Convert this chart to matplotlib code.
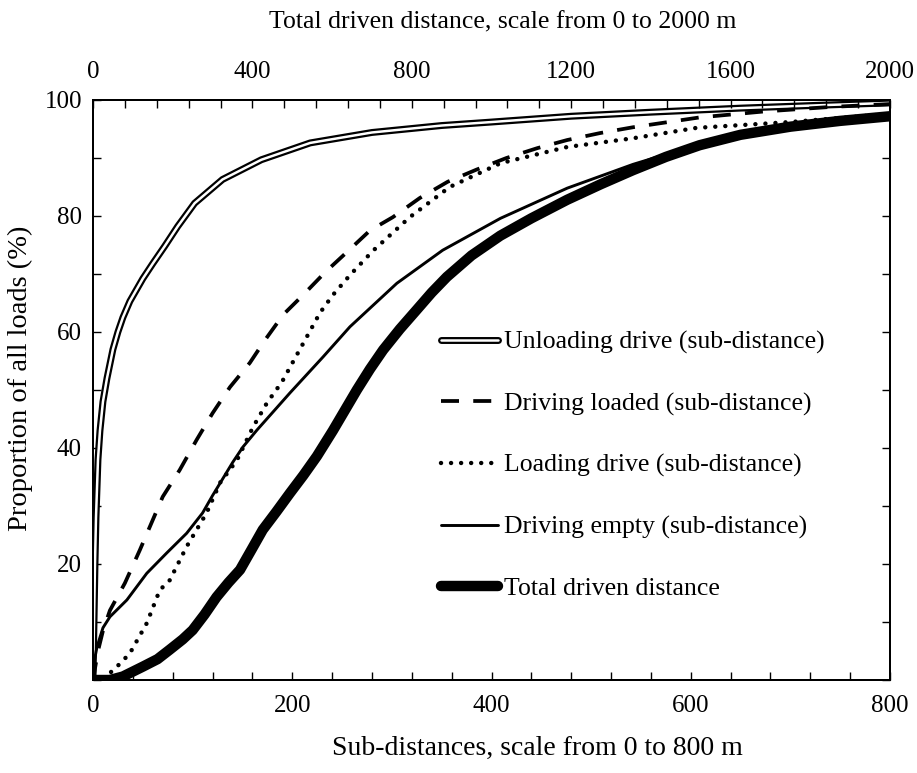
import matplotlib
matplotlib.use("Agg")
import matplotlib.pyplot as plt
import matplotlib.patheffects as pe
import numpy as np

plt.rcParams['font.family'] = ['Liberation Serif', 'DejaVu Serif']

# Sub-distance curves (x in m, 0-800 scale), cumulative share of loads (%)
unload_x = [0, 1, 2, 3, 5, 7, 10, 14, 20, 25, 30, 37, 50, 60, 72, 85, 102, 130, 169, 218, 280, 350, 400,
            480, 560, 650, 730, 800]
unload_y = [0, 10, 20, 28, 38, 43, 48, 52, 57, 60, 62.5, 65.3, 69.2, 71.8, 74.8, 78.2, 82.2, 86.3, 89.7,
            92.6, 94.4, 95.6, 96.2, 97.2, 97.9, 98.6, 99.1, 99.5]

loaded_x = [0, 5, 10, 17, 32, 47, 57, 70, 87, 104, 120, 137.5, 157.5, 172.6, 191, 211, 233, 255, 278, 301,
            328, 356, 385, 415, 446, 476, 509, 542, 609, 672, 740, 800]
loaded_y = [0, 5, 8.5, 12, 16.7, 22.4, 26.4, 31.6, 36.2, 41.4, 46, 50.5, 54.7, 58.6, 63, 66.4, 70.3, 73.8, 77.5, 79.8,
            83.1, 85.9, 88, 90, 91.7, 93.1, 94.3, 95.3, 97, 98, 98.8, 99.3]

loading_x = [0, 8, 17, 27, 37, 54, 67, 77, 94, 114, 127.5, 144.5, 160.6, 174.7, 189.7, 202.8, 212.8, 227.8,
             240.9, 257.9, 281, 318, 358, 409, 476, 542, 606, 700, 800]
loading_y = [0, 0.3, 1.2, 2.8, 4.6, 9.8, 15.5, 17.2, 23, 28.8, 34, 37.9, 43.6, 47.8, 51.4, 55.5, 58.6, 63.3,
             66.4, 69.8, 74, 79.8, 85, 89.1, 91.9, 93.4, 95.2, 96.2, 97.6]

empty_x = [0, 1, 4, 10, 17, 34, 54, 74, 94, 110, 120, 140.5, 150.6, 164.6, 197.7, 230.9, 257.9, 305, 351,
           409, 476, 542, 609, 700, 800]
empty_y = [0, 3, 5.7, 9, 10.9, 13.8, 18.4, 21.9, 25.3, 28.8, 31.8, 37.6, 40.2, 43.1, 49.5, 55.7, 60.9, 68.4, 74.1,
           79.6, 84.8, 88.9, 92.4, 95.2, 97.0]

# Total driven distance (x in m, 0-2000 scale)
total_x = [0, 42, 75, 125, 162, 192, 225, 250, 280, 310, 340, 369, 398, 426, 460, 494, 528, 562, 602, 632,
           662, 695, 728, 770, 812, 850, 888, 950, 1022, 1100, 1190, 1275, 1355, 1438, 1522, 1625, 1750,
           1875, 2000]
total_y = [0, 0, 0.6, 2.3, 3.6, 5.2, 7, 8.6, 11.3, 14.3, 16.8, 19, 22.5, 25.9, 29, 32.2, 35.3, 38.6, 43, 46.5,
           50, 53.6, 56.9, 60.5, 63.8, 66.8, 69.5, 73.2, 76.6, 79.6, 82.8, 85.5, 87.9, 90.2, 92.2, 94, 95.4,
           96.4, 97.2]

labels = ['Unloading drive (sub-distance)', 'Driving loaded (sub-distance)',
          'Loading drive (sub-distance)', 'Driving empty (sub-distance)', 'Total driven distance']

fig = plt.figure(figsize=(9.17, 7.73), dpi=100)
ax = fig.add_axes([93 / 917, 93 / 773, 797 / 917, 580 / 773])
ax2 = ax.twiny()

h1, = ax.plot(unload_x, unload_y, color='white', lw=1.8, solid_capstyle='round',
              path_effects=[pe.Stroke(linewidth=5.0, foreground='black', capstyle='round'), pe.Normal()])
h2, = ax.plot(loaded_x, loaded_y, color='black', lw=2.7, dashes=(4.8, 3.8))
h3, = ax.plot(loading_x, loading_y, color='black', lw=3.2, linestyle=(0, (0.01, 2.25)),
              dash_capstyle='round')
h4, = ax.plot(empty_x, empty_y, color='black', lw=2.1, solid_capstyle='round')
h5, = ax2.plot(total_x, total_y, color='black', lw=7.5, solid_capstyle='round')

ax.set_xlim(0, 800)
ax.set_ylim(0, 100)
ax2.set_xlim(0, 2000)

ax.set_xticks(np.arange(0, 801, 200))
ax.set_xticks(np.arange(0, 801, 40), minor=True)
ax.set_yticks([20, 40, 60, 80, 100])
ax.set_yticks(np.arange(0, 101, 10), minor=True)
ax2.set_xticks(np.arange(0, 2001, 400))
ax2.set_xticks(np.arange(0, 2001, 80), minor=True)

for a in (ax, ax2):
    for s in a.spines.values():
        s.set_linewidth(1.4)

ax.tick_params(axis='x', which='both', direction='in', length=6, width=1, top=False, bottom=True,
               labelsize=18, pad=11)
ax.tick_params(axis='y', which='both', direction='in', length=6, width=1, left=True, right=True,
               labelsize=18, pad=8)
ax2.tick_params(axis='x', which='both', direction='in', length=6, width=1, top=True, bottom=False,
                labelsize=18, pad=12)

ax.set_xlabel('Sub-distances, scale from 0 to 800 m', fontsize=20)
ax.xaxis.set_label_coords(0.558, -0.097)
ax.set_ylabel('Proportion of all loads (%)', fontsize=20.5)
ax.yaxis.set_label_coords(-0.075, 0.52)
ax2.set_xlabel('Total driven distance, scale from 0 to 2000 m', fontsize=18.5)
ax2.xaxis.set_label_coords(0.514, 1.124)

ax2.legend([h1, h2, h3, h4, h5], labels, loc='center left', bbox_to_anchor=(0.437, 0.37),
           frameon=False, fontsize=18.5, handlelength=2.2, handletextpad=0.25,
           labelspacing=1.49, borderpad=0, borderaxespad=0)

fig.savefig('out.png', dpi=100)
